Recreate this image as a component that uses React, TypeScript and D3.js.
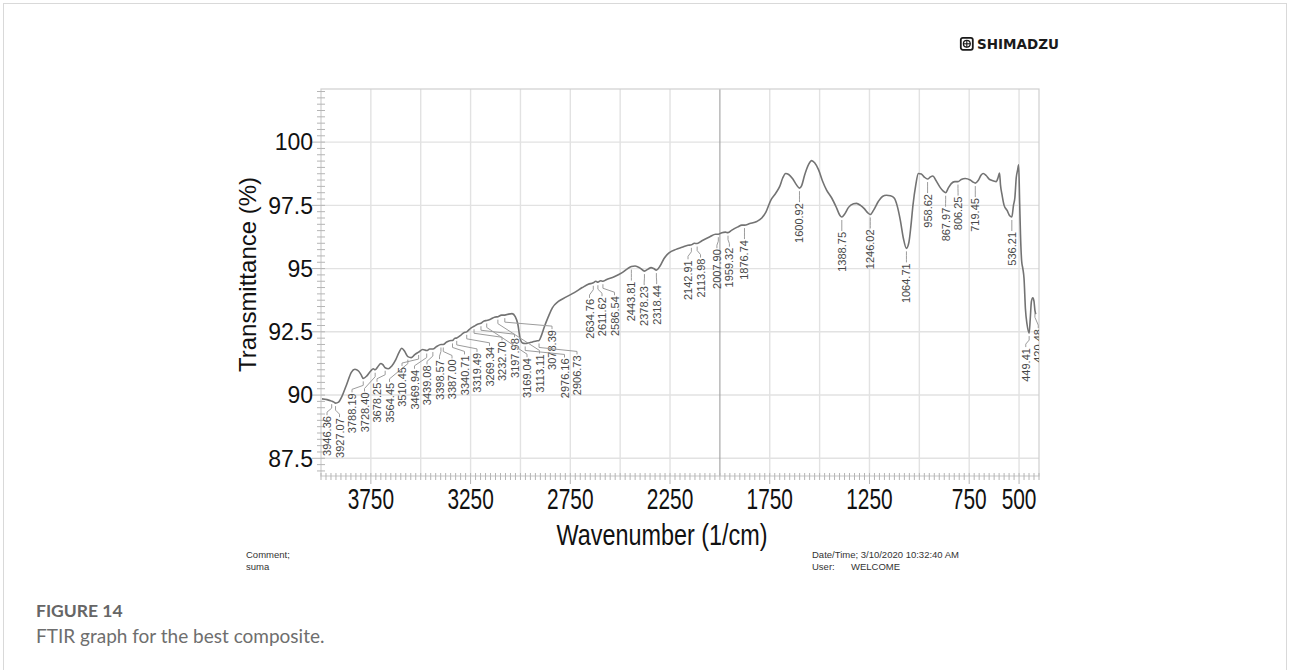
import React from "react";
import * as d3 from "d3";

// FTIR spectrum (wavenumber in 1/cm, transmittance in %)
const wavenumbers = [
  3995, 3970, 3946.36, 3935, 3927.07, 3912, 3895, 3870, 3848, 3830, 3812, 3800, 3788.19, 3770, 3750, 3738,
  3728.4, 3715, 3700, 3690, 3678.25, 3662, 3645, 3625, 3608, 3595, 3580, 3564.45, 3548, 3530, 3510.45, 3490,
  3469.94, 3455, 3439.08, 3420, 3398.57, 3387.0, 3370, 3355, 3340.71, 3330, 3319.49, 3300, 3285, 3269.34,
  3250, 3232.7, 3215, 3197.98, 3182, 3169.04, 3150, 3130, 3113.11, 3095, 3078.39, 3060, 3042, 3026, 3013,
  3002, 2990, 2976.16, 2960, 2940, 2920, 2906.73, 2895, 2880, 2860, 2840, 2810, 2770, 2730, 2690, 2660,
  2634.76, 2622, 2611.62, 2598, 2586.54, 2570, 2530, 2490, 2462, 2443.81, 2425, 2400, 2378.23, 2360, 2345,
  2332, 2318.44, 2300, 2280, 2255, 2220, 2190, 2160, 2142.91, 2128, 2113.98, 2090, 2050, 2022, 2007.9, 1990,
  1972, 1959.32, 1940, 1910, 1890, 1876.74, 1850, 1815, 1790, 1770, 1745, 1720, 1700, 1685, 1670, 1655, 1635,
  1615, 1600.92, 1590, 1575, 1555, 1540, 1525, 1505, 1485, 1465, 1440, 1415, 1398, 1388.75, 1375, 1355, 1330,
  1315, 1295, 1275, 1258, 1246.02, 1230, 1205, 1185, 1165, 1145, 1125, 1110, 1095, 1080, 1064.71, 1052, 1042,
  1032, 1018, 1005, 990, 975, 958.62, 945, 932, 918, 895, 880, 867.97, 855, 840, 822, 806.25, 790, 770, 745,
  730, 719.45, 705, 690, 680, 665, 650, 635, 615, 605, 598, 593, 585, 575, 560, 548, 536.21, 528, 521, 514,
  507, 502, 497, 493, 487, 481, 475, 468, 460, 449.41, 444, 438, 431, 425, 420.48, 416,
];
const transmittance = [
  89.85, 89.82, 89.76, 89.72, 89.68, 89.72, 89.95, 90.45, 90.9, 91.02, 90.95, 90.82, 90.66, 90.76, 90.96, 91.04,
  91.0, 91.12, 91.25, 91.2, 91.08, 91.04, 91.15, 91.4, 91.7, 91.85, 91.72, 91.52, 91.48, 91.6, 91.7, 91.8,
  91.76, 91.82, 91.82, 91.92, 92.0, 92.0, 92.1, 92.15, 92.16, 92.24, 92.26, 92.36, 92.46, 92.5,
  92.64, 92.72, 92.8, 92.84, 92.93, 92.95, 93.0, 93.08, 93.1, 93.16, 93.16, 93.2, 93.22, 93.1, 92.8,
  92.25, 92.06, 92.04, 92.06, 92.1, 92.14, 92.16, 92.35, 92.7, 93.1, 93.45, 93.7, 93.88, 94.05, 94.25, 94.38,
  94.44, 94.5, 94.46, 94.52, 94.5, 94.56, 94.68, 94.84, 95.0, 95.08, 95.1, 95.02, 94.9, 94.98, 95.04,
  95.0, 94.94, 95.1, 95.4, 95.62, 95.76, 95.84, 95.92, 95.94, 96.0, 95.99, 96.1, 96.26, 96.36, 96.36, 96.42,
  96.44, 96.42, 96.52, 96.65, 96.72, 96.72, 96.78, 96.86, 97.0, 97.22, 97.7, 97.98, 98.25, 98.58, 98.76, 98.72, 98.55,
  98.3, 98.18, 98.28, 98.7, 99.12, 99.27, 99.18, 98.9, 98.45, 98.1, 97.8, 97.4, 97.1, 97.04, 97.15, 97.42, 97.56,
  97.58, 97.5, 97.36, 97.2, 97.14, 97.3, 97.66, 97.85, 97.9, 97.88, 97.78, 97.45, 96.9, 96.2, 95.8, 96.05, 96.7,
  97.5, 98.3, 98.76, 98.74, 98.62, 98.54, 98.62, 98.66, 98.5, 98.2, 98.06, 98.0, 98.18, 98.36, 98.44, 98.44, 98.52, 98.56, 98.5,
  98.42, 98.38, 98.48, 98.7, 98.76, 98.68, 98.54, 98.48, 98.44, 98.6, 98.78, 98.3, 97.9, 97.5, 97.3, 97.1, 97.04, 97.5, 97.8, 98.6,
  98.9, 99.1, 97.6, 96.4, 95.3, 95.0, 94.6, 93.4, 92.8, 92.45, 93.0, 93.7, 93.85, 93.7, 93.35, 93.2,
];

// Picked band positions (1/cm)
const peakWavenumbers = [
  3946.36, 3927.07, 3788.19, 3728.4, 3678.25, 3564.45, 3510.45, 3469.94, 3439.08, 3398.57, 3387.0, 3340.71,
  3319.49, 3269.34, 3232.7, 3197.98, 3169.04, 3113.11, 3078.39, 2976.16, 2906.73, 2634.76, 2611.62, 2586.54,
  2443.81, 2378.23, 2318.44, 2142.91, 2113.98, 2007.9, 1959.32, 1876.74, 1600.92, 1388.75, 1246.02, 1064.71,
  958.62, 867.97, 806.25, 719.45, 536.21, 449.41, 420.48,
];

const xTickValues = [3750, 3250, 2750, 2250, 1750, 1250, 750, 500];
const yTickValues = [87.5, 90, 92.5, 95, 97.5, 100];

const SANS = "'Liberation Sans', Arial, sans-serif";

// Spreads crowded labels apart: overlapping labels are merged into groups,
// each group sits as close as possible to its targets, kept inside [lo, hi].
function spreadLabels(targets: number[], gap: number, lo: number, hi: number): number[] {
  type Group = { n: number; adj: number; pos: number };
  const groups: Group[] = [];
  const place = (g: Group) => {
    const p = g.adj / g.n;
    g.pos = Math.max(lo, Math.min(hi - (g.n - 1) * gap, p));
  };
  targets.forEach((t) => {
    const g: Group = { n: 1, adj: t, pos: t };
    place(g);
    groups.push(g);
    while (groups.length > 1) {
      const cur = groups[groups.length - 1];
      const prev = groups[groups.length - 2];
      if (prev.pos + prev.n * gap <= cur.pos) break;
      prev.adj += cur.adj - cur.n * prev.n * gap;
      prev.n += cur.n;
      place(prev);
      groups.pop();
    }
  });
  const out: number[] = [];
  groups.forEach((g) => {
    for (let k = 0; k < g.n; k++) out.push(g.pos + k * gap);
  });
  return out;
}

export default function App() {
  const W = 1290;
  const H = 670;
  const left = 321;
  const right = 1039;
  const top = 89;
  const bottom = 476;

  const x = d3.scaleLinear().domain([4000, 400]).range([left, right]);
  const y = d3.scaleLinear().domain([86.8, 102.1]).range([bottom, top]);

  const points: [number, number][] = wavenumbers.map((w, i) => [w, transmittance[i]]);
  const line = d3
    .line<[number, number]>()
    .x((d) => x(d[0]))
    .y((d) => y(d[1]))
    .curve(d3.curveMonotoneX);

  // transmittance at any wavenumber (linear between samples)
  const ascW = wavenumbers.slice().reverse();
  const ascT = transmittance.slice().reverse();
  const tAt = (w: number) => {
    const i = d3.bisectLeft(ascW, w);
    if (i <= 0) return ascT[0];
    if (i >= ascW.length) return ascT[ascT.length - 1];
    const f = (w - ascW[i - 1]) / (ascW[i] - ascW[i - 1]);
    return ascT[i - 1] + f * (ascT[i] - ascT[i - 1]);
  };

  const peakX = peakWavenumbers.map((w) => x(w));
  const labelX = spreadLabels(peakX, 12.5, left + 6, right + 2);

  const gridX = d3.range(3750, 400, -250);
  const minorX = d3.range(4000, 399, -25);
  const minorY = d3.range(87, 102.01, 0.25);

  return (
    <svg
      width={W}
      height={H}
      viewBox={`0 0 ${W} ${H}`}
      style={{ position: "absolute", left: 0, top: 0, background: "#fff" }}
    >
      <defs>
        <clipPath id="plotClip">
          <rect x={left} y={top} width={right - left} height={bottom - top} />
        </clipPath>
      </defs>

      {/* figure box */}
      <rect x={3.5} y={3.5} width={W - 7} height={H + 20} fill="none" stroke="#d9d9d9" strokeWidth={1} />

      {/* maker logo */}
      <g transform="translate(960,37)">
        <rect x={0.8} y={0.8} width={12} height={12} rx={2} fill="none" stroke="#1a1a1a" strokeWidth={1.8} />
        <circle cx={6.8} cy={6.8} r={3.4} fill="none" stroke="#1a1a1a" strokeWidth={1.3} />
        <line x1={6.8} y1={3} x2={6.8} y2={10.6} stroke="#1a1a1a" strokeWidth={1.1} />
        <line x1={3} y1={6.8} x2={10.6} y2={6.8} stroke="#1a1a1a" strokeWidth={1.1} />
        <text x={17} y={12} fontFamily="'DejaVu Sans', sans-serif" fontWeight="bold" fontSize={13.5} fill="#1a1a1a">
          SHIMADZU
        </text>
      </g>

      {/* grid */}
      {yTickValues.map((v) => (
        <line key={"gy" + v} x1={left} x2={right} y1={y(v)} y2={y(v)} stroke="#e2e2e2" strokeWidth={1.4} />
      ))}
      {gridX.map((v) => (
        <line
          key={"gx" + v}
          x1={x(v)}
          x2={x(v)}
          y1={top}
          y2={bottom}
          stroke={v === 2000 ? "#a0a0a0" : "#e2e2e2"}
          strokeWidth={v === 2000 ? 1.1 : 1.4}
        />
      ))}
      <rect x={left} y={top} width={right - left} height={bottom - top} fill="none" stroke="#cfcfcf" strokeWidth={1.2} />

      {/* minor/major ticks */}
      {minorY.map((v, i) => {
        const major = yTickValues.includes(+v.toFixed(2));
        return (
          <line
            key={"ty" + i}
            x1={major ? left - 9 : left - 4}
            x2={left + 4}
            y1={y(v)}
            y2={y(v)}
            stroke="#b5b5b5"
            strokeWidth={1}
          />
        );
      })}
      {minorX.map((v, i) => {
        const major = xTickValues.includes(v);
        return (
          <line
            key={"tx" + i}
            x1={x(v)}
            x2={x(v)}
            y1={bottom - 3}
            y2={major ? bottom + 8 : bottom + 4}
            stroke="#b5b5b5"
            strokeWidth={1}
          />
        );
      })}

      {/* axis tick labels */}
      {yTickValues.map((v) => (
        <text
          key={"ly" + v}
          x={left - 8}
          y={y(v)}
          dy="0.36em"
          textAnchor="end"
          fontFamily={SANS}
          fontSize={23}
          fill="#111"
        >
          {v}
        </text>
      ))}
      {xTickValues.map((v) => (
        <text
          key={"lx" + v}
          transform={`translate(${x(v)},${bottom + 33}) scale(0.72,1)`}
          textAnchor="middle"
          fontFamily={SANS}
          fontSize={29}
          fill="#111"
        >
          {v}
        </text>
      ))}

      {/* axis titles */}
      <text
        transform={`translate(256,${(top + bottom) / 2 - 8}) rotate(-90)`}
        textAnchor="middle"
        fontFamily={SANS}
        fontSize={24}
        fill="#111"
      >
        Transmittance (%)
      </text>
      <text
        transform={`translate(${(left + right) / 2 - 18},${bottom + 69}) scale(0.78,1)`}
        textAnchor="middle"
        fontFamily={SANS}
        fontSize={30}
        fill="#111"
      >
        Wavenumber (1/cm)
      </text>

      {/* spectrum */}
      <g clipPath="url(#plotClip)">
        <path d={line(points) || ""} fill="none" stroke="#737373" strokeWidth={1.6} strokeLinejoin="round" />

        {/* band labels with leader lines */}
        {peakWavenumbers.map((w, i) => {
          const px = peakX[i];
          const lx = labelX[i];
          const cy = y(tAt(w));
          const ly = Math.max(cy, y(tAt(x.invert(lx))));
          const textTop = ly + 15;
          const d = `M${px},${cy + 3}V${cy + 7}L${lx},${Math.max(cy + 7, textTop - 4)}V${textTop - 1}`;
          return (
            <g key={"pk" + w}>
              <path d={d} fill="none" stroke="#9c9c9c" strokeWidth={1} />
              <text
                transform={`translate(${lx},${textTop}) rotate(-90)`}
                textAnchor="end"
                dominantBaseline="central"
                fontFamily={SANS}
                fontSize={11}
                fill="#484848"
              >
                {w.toFixed(2)}
              </text>
            </g>
          );
        })}
      </g>

      {/* instrument footer */}
      <g fontFamily={SANS} fontSize={9.5} fill="#333">
        <text x={246} y={558}>Comment;</text>
        <text x={246} y={570}>suma</text>
        <text x={812} y={558}>Date/Time; 3/10/2020 10:32:40 AM</text>
        <text x={812} y={570}>User:</text>
        <text x={851} y={570}>WELCOME</text>
      </g>

      {/* caption */}
      <text x={36} y={617} fontFamily="Lato, 'Open Sans', sans-serif" fontWeight="bold" fontSize={17.5} fill="#666">
        FIGURE 14
      </text>
      <text x={36} y={643} fontFamily="Lato, 'Open Sans', sans-serif" fontSize={19} fill="#6e6e6e">
        FTIR graph for the best composite.
      </text>
    </svg>
  );
}
